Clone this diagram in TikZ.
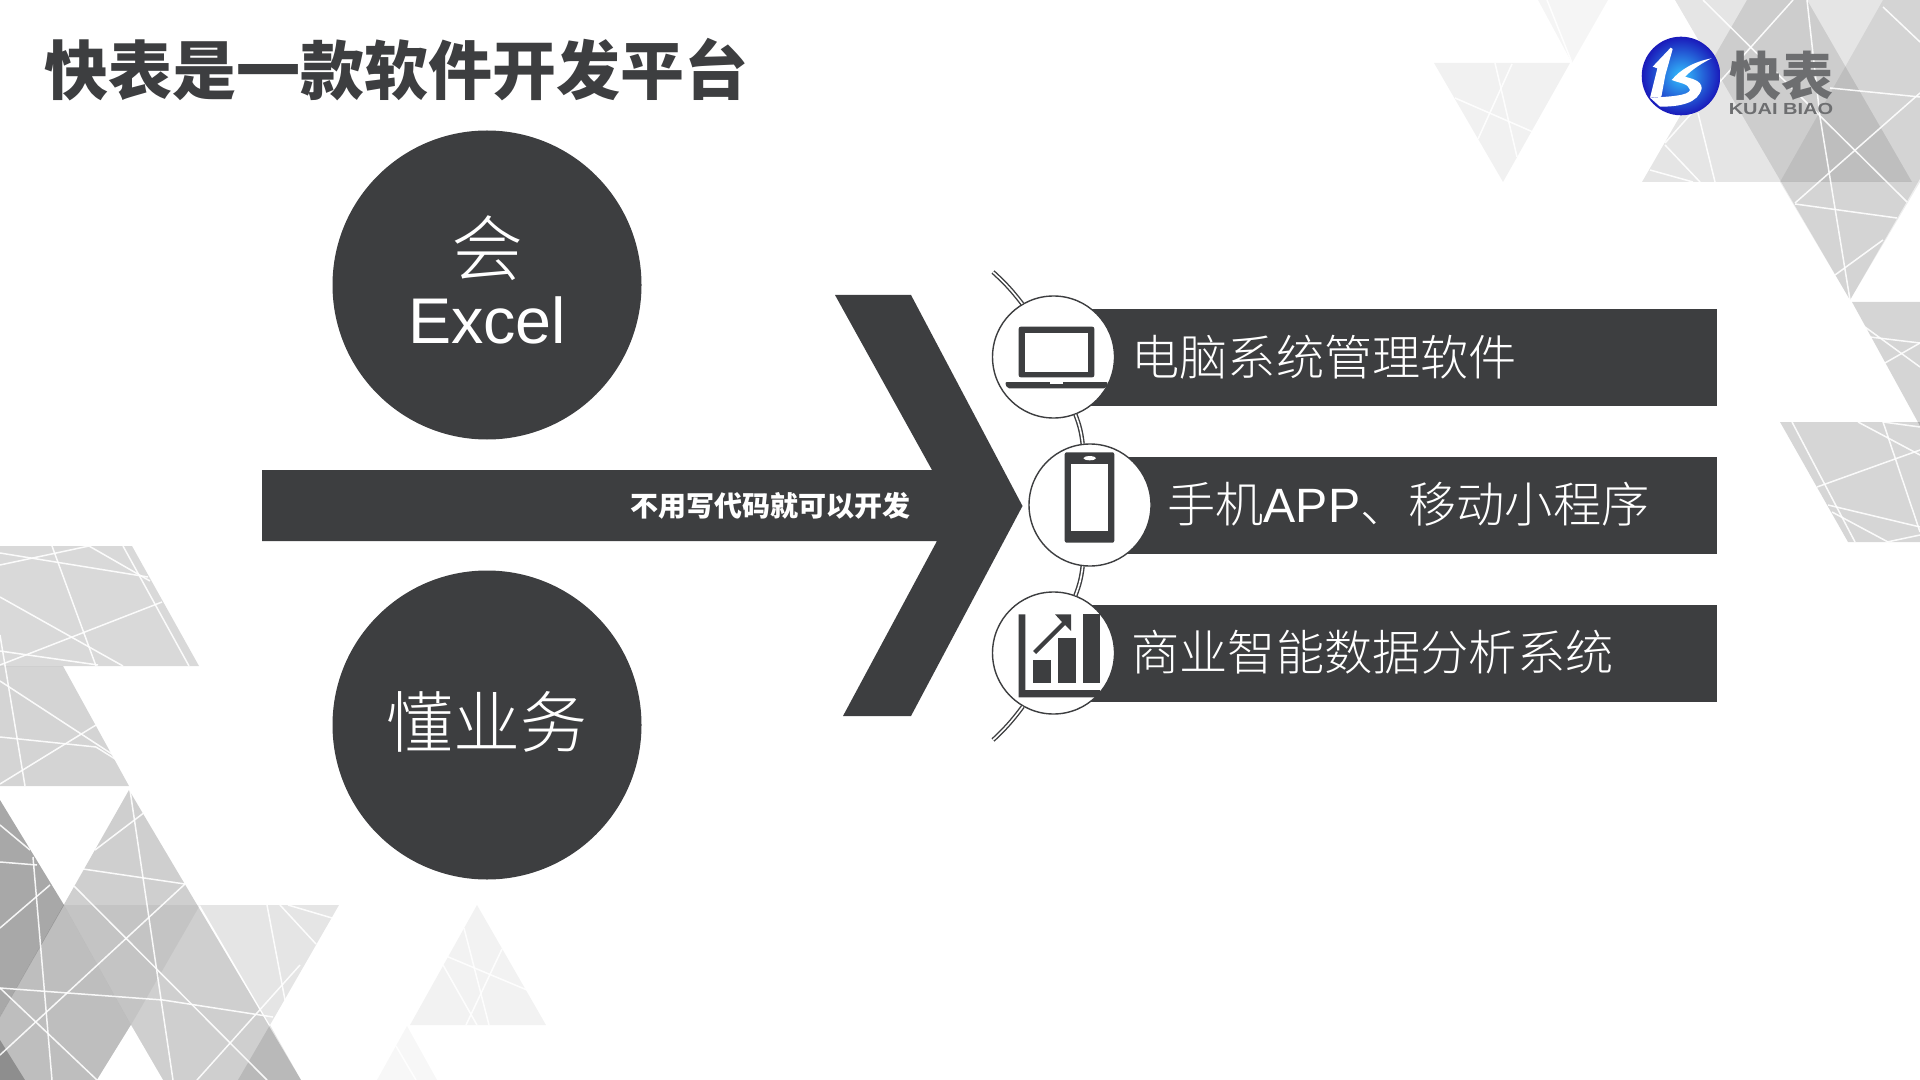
\documentclass[tikz,border=0pt]{standalone}
\usepackage{fontspec}
\setmainfont{Liberation Sans}
\newfontfamily\cjk{Noto Sans CJK SC}
\newfontfamily\cjklight{Noto Sans CJK SC Light}
\newfontfamily\cjkheavy{Noto Sans CJK SC Black}
\usetikzlibrary{calc}
\definecolor{slate}{HTML}{3D3E40}
\definecolor{logogrey}{HTML}{6D6E70}
\tikzset{
	facet/.style={fill=black, fill opacity=#1},
	crack/.style={white, line width=0.75pt, opacity=0.9},
	bigdisc/.style={circle, fill=slate, text=white, minimum size=154.5pt, inner sep=0pt, align=center},
	discword/.style={text=white, inner sep=0pt},
	icondisc/.style={circle, draw=slate, fill=white, line width=0.7pt, minimum size=61pt, inner sep=0pt},
	strip/.style={rectangle, fill=slate, minimum width=332pt, minimum height=48.5pt, inner sep=0pt},
	striptext/.style={anchor=west, text=white, inner sep=0pt, font=\fontsize{24.1}{28}\selectfont\cjklight},
	wire/.style={draw=slate, line width=0.7pt, double=white, double distance=0.8pt}
}
\begin{document}
\begin{tikzpicture}
	[x=0.5pt, y=-0.5pt]
	\useasboundingbox (0,0) rectangle (1920,1080);
	\fill[white] (0,0) rectangle (1920,1080);
	% top right facets
	\fill[facet=.055] (1434,63) -- (1570,63) -- (1503,182) -- cycle;
	\fill[facet=.04] (1538,0) -- (1608,0) -- (1572,63) -- cycle;
	\fill[facet=.10] (1642,182) -- (1777,-52) -- (1912,182) -- cycle;
	\fill[facet=.10] (1675,0) -- (2023,0) -- (1850,300) -- cycle;
	\fill[facet=.07] (1780,182) -- (1920,182) -- (1850,300) -- cycle;
	\fill[facet=.07] (1780,182) -- (1883,0) -- (1920,0) -- (1920,182) -- cycle;
	\fill[facet=.165] (1852,302) -- (1920,302) -- (1920,426) -- cycle;
	\fill[facet=.16] (1780,422) -- (1920,422) -- (1920,542) -- (1848,542) -- cycle;
	% bottom left facets
	\fill[facet=.15] (0,546) -- (132,546) -- (199,666) -- (0,666) -- cycle;
	\fill[facet=.17] (0,666) -- (63,666) -- (129,786) -- (0,786) -- cycle;
	\fill[facet=.34] (0,800) -- (64,905) -- (0,1017) -- cycle;
	\fill[facet=.19] (129,790) -- (301,1080) -- (-36,1080) -- (0,1017) -- cycle;
	\fill[facet=.05] (64,905) -- (200,905) -- (131,1025) -- cycle;
	\fill[facet=.08] (64,905) -- (131,1025) -- (97,1080) -- (0,1080) -- (0,1017) -- cycle;
	\fill[facet=.25] (0,1040) -- (25,1080) -- (0,1080) -- cycle;
	\fill[facet=.10] (200,905) -- (339,905) -- (270,1025) -- cycle;
	\fill[facet=.10] (270,1025) -- (301,1080) -- (238,1080) -- cycle;
	\fill[white] (131,1025) -- (163,1080) -- (97,1080) -- cycle;
	\fill[facet=.05] (477,905) -- (546,1025) -- (410,1025) -- cycle;
	\fill[facet=.03] (407,1026) -- (437,1080) -- (377,1080) -- cycle;
	\foreach \xa/\ya/\xb/\yb in {1495/63/1517/157, 1512/64/1478/139, 1455/98/1533/132, 1547/0/1572/63,
		1703/0/1907/202, 1793/0/1665/143, 1807/0/1820/117, 1820/117/1850/300, 1920/93/1795/203,
		1795/204/1897/218, 1830/88/1920/97, 1883/7/1920/42, 1883/240/1835/275, 1698/113/1715/182,
		1665/145/1700/182, 1650/170/1693/182,
		1792/422/1855/542, 1858/422/1920/455, 1883/422/1920/532, 1817/487/1920/450, 1828/505/1920/527,
		1832/512/1888/542, 1887/542/1920/535, 1885/363/1920/343, 1865/327/1920/367, 1870/337/1920/343,
		1883/422/1920/427,
		0/565/89/546, 89/546/150/581, 0/553/148/577, 52/546/96/666, 123/546/189/666, 0/597/123/666,
		162/602/0/665, 0/651/98/665, 0/635/25/786, 0/681/118/758, 0/737/96/747, 96/747/120/762,
		96/725/0/784,
		130/790/173/1080, 145/812/95/850, 83/869/185/884, 185/884/0/1055, 74/886/267/1080,
		0/988/163/1000, 163/1000/273/1017, 0/988/97/1080, 33/857/52/1080, 0/825/30/850, 0/862/37/865,
		50/885/0/928, 300/965/197/1080, 267/905/285/1000, 280/905/316/944, 288/905/332/918,
		464/928/489/1025, 502/949/466/1025, 446/956/527/990, 443/965/477/1025, 396/1046/416/1080}
		\draw[crack] (\xa,\ya) -- (\xb,\yb);
	% title and logo
	\node[anchor=west, text=slate, inner sep=0pt, font=\fontsize{32}{36}\selectfont\cjkheavy] (title) at (44,70) {快表是一款软件开发平台};
	\shade[inner color=cyan!70!blue!80, outer color=blue!70!black!90] (1681,76) circle (39.3);
	\begin{scope}[shift={(1630,25)}, x=0.1667pt, y=-0.1667pt]
		\fill[white] (68,125) -- (122,68) -- (128,72) -- (106,150) -- (94,215) -- (60,218) -- (82,130) -- cycle;
		\fill[white] (245,100) .. controls (190,110) and (150,135) .. (125,165) .. controls (150,175) and (175,175) .. (180,195)
			.. controls (175,212) and (120,215) .. (60,218) -- (90,245) .. controls (150,245) and (205,235) .. (215,190)
			.. controls (215,165) and (180,160) .. (165,155) .. controls (190,130) and (220,112) .. (245,100) -- cycle;
	\end{scope}
	\node[text=logogrey, inner sep=0pt, font=\fontsize{26}{26}\selectfont\cjkheavy] (brand) at (1781,76) {快表};
	\node[text=logogrey, inner sep=0pt, xscale=1.25, font=\fontsize{8}{9}\selectfont\bfseries] (brandlatin) at (1781,109) {KUAI BIAO};
	% left side
	\node[bigdisc] (excel) at (487,285) {};
	\node[discword, font=\fontsize{36}{36}\selectfont\cjklight] (hui) at (487,248) {会};
	\node[discword, font=\fontsize{32.3}{36}\selectfont] (excelword) at (487,320) {Excel};
	\node[bigdisc] (biz) at (487,725) {};
	\node[discword, font=\fontsize{33.5}{36}\selectfont\cjklight] (bizword) at (487,722) {懂业务};
	\fill[slate] (262,470) -- (932,470) -- (835,295) -- (911,295) -- (1022.5,506) -- (911,716) -- (843,716) -- (937,541) -- (262,541) -- cycle;
	\node[text=white, inner sep=0pt, font=\fontsize{14}{16}\selectfont\cjk\bfseries] (nocode) at (770,506) {不用写代码就可以开发};
	% right side
	\node[strip] (pcbar) at (1385,357.3) {};
	\node[strip] (appbar) at (1385,505.3) {};
	\node[strip] (bibar) at (1385,653.3) {};
	\node[striptext] (pctext) at (1131,357) {电脑系统管理软件};
	\node[striptext] (apptext) at (1167,504) {手机{\normalfont APP}、移动小程序};
	\node[striptext] (bitext) at (1131,652) {商业智能数据分析系统};
	\node[icondisc] (pc) at (1053.5,357) {};
	\node[icondisc] (app) at (1090,505) {};
	\node[icondisc] (bi) at (1053.5,653) {};
	\coordinate (wiretop) at (993,272);
	\coordinate (wirebot) at (993,740);
	\draw[wire] (wiretop) to[bend left=5] (pc);
	\draw[wire] (pc) to[bend left=7] (app);
	\draw[wire] (app) to[bend left=7] (bi);
	\draw[wire] (bi) to[bend left=5] (wirebot);
	% icons
	\fill[slate, rounded corners=1pt] (1018.7,326.7) rectangle (1094.3,377.3);
	\fill[white] (1025,332.7) rectangle (1088.3,371.7);
	\fill[slate, rounded corners=1pt] (1005,382) -- (1108,382) -- (1106,388.3) -- (1007,388.3) -- cycle;
	\fill[white] (1050,382) rectangle (1062.7,384);
	\fill[slate, rounded corners=1pt] (1064.7,452.3) rectangle (1114.3,542.7);
	\fill[white] (1070.7,464.3) rectangle (1108.3,530.7);
	\fill[white] (1089.7,458.2) ellipse (6.3 and 2.1);
	\fill[slate] (1018.7,614.3) -- (1025.3,614.3) -- (1025.3,690) -- (1100,690) -- (1100,697.3) -- (1018.7,697.3) -- cycle;
	\fill[slate] (1032.7,660) rectangle (1050.7,683.3);
	\fill[slate] (1057.7,638.3) rectangle (1075.7,683.3);
	\fill[slate] (1082.7,614.3) rectangle (1100,683.3);
	\fill[slate] (1071,614.3) -- (1071,631) -- (1065,625) -- (1036,654) -- (1033,651) -- (1062,622) -- (1055,614.3) -- cycle;
\end{tikzpicture}
\end{document}
